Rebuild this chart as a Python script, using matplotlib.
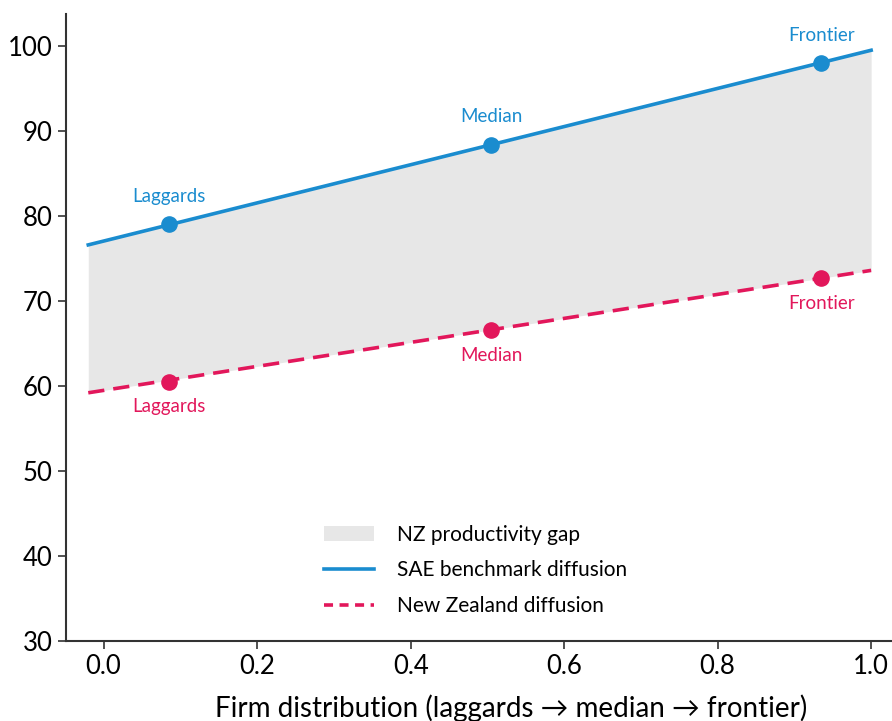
import matplotlib
matplotlib.use("Agg")
import matplotlib.pyplot as plt
from matplotlib.patches import Patch
from matplotlib.lines import Line2D

plt.rcParams['font.family'] = ['Lato', 'DejaVu Sans']

# data
point_x = [0.085, 0.505, 0.935]
point_names = ['Laggards', 'Median', 'Frontier']
sae_points = [79.0, 88.4, 98.0]
nz_points = [60.5, 66.6, 72.7]

line_x = [-0.02, 1.0]
sae_line = [76.6, 99.5]
nz_line = [59.2, 73.6]

blue = '#1a8ccf'
pink = '#e2175b'
gap_grey = '#e7e7e7'

fig = plt.figure(figsize=(8.92, 7.21), dpi=100)
ax = fig.add_axes([0.074, 0.111, 0.925, 0.87])

# gap between the two diffusion curves
ax.fill_between(line_x, nz_line, sae_line, color=gap_grey, linewidth=0, zorder=1)

ax.plot(line_x, sae_line, color=blue, linewidth=2.6, zorder=3)
ax.plot(line_x, nz_line, color=pink, linewidth=2.6, linestyle=(0, (4.5, 2.5)), zorder=3)

ax.scatter(point_x, sae_points, s=120, color=blue, zorder=4)
ax.scatter(point_x, nz_points, s=120, color=pink, zorder=4)

for x, y, name in zip(point_x, sae_points, point_names):
    ax.annotate(name, (x, y), xytext=(0, 14), textcoords='offset points',
                ha='center', va='bottom', fontsize=13.5, color=blue)
for x, y, name in zip(point_x, nz_points, point_names):
    ax.annotate(name, (x, y), xytext=(0, -12), textcoords='offset points',
                ha='center', va='top', fontsize=13.5, color=pink)

ax.set_xlim(-0.049, 1.026)
ax.set_ylim(30, 103.8)
ax.set_xticks([0.0, 0.2, 0.4, 0.6, 0.8, 1.0])
ax.set_yticks([30, 40, 50, 60, 70, 80, 90, 100])
ax.tick_params(axis='both', labelsize=18.5, length=6, width=1.2, color='#333333')
ax.set_xlabel('Firm distribution (laggards \u2192 median \u2192 frontier)',
              fontsize=20, labelpad=11)
ax.xaxis.label.set_x(0.539)

for side in ['top', 'right']:
    ax.spines[side].set_visible(False)
for side in ['left', 'bottom']:
    ax.spines[side].set_linewidth(1.5)
    ax.spines[side].set_color('#333333')

handles = [
    Patch(facecolor=gap_grey, edgecolor='none', label='NZ productivity gap'),
    Line2D([0], [0], color=blue, linewidth=2.6, label='SAE benchmark diffusion'),
    Line2D([0], [0], color=pink, linewidth=2.6, linestyle=(0, (2.5, 1.8)),
           label='New Zealand diffusion'),
]
ax.legend(handles=handles, loc='lower left', bbox_to_anchor=(0.29, 0.01),
          frameon=False, fontsize=15, handlelength=2.4, handletextpad=1.1,
          labelspacing=0.75)

fig.savefig('out.png', dpi=100, facecolor='white')
